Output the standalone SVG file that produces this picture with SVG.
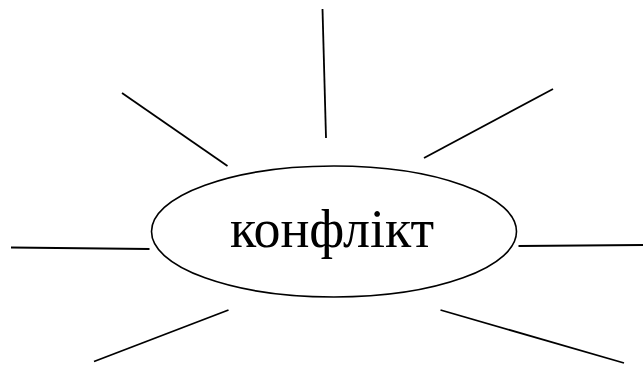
<svg xmlns="http://www.w3.org/2000/svg" width="643" height="367" viewBox="0 0 643 367">
<style>
.ln{stroke:#000;stroke-width:1.8;fill:none}
.el{stroke:#000;stroke-width:1.6;fill:#fff}
.tx{font-family:"Liberation Serif",serif;font-size:54px;fill:#000;text-anchor:middle}
</style>
<rect width="643" height="367" fill="#fff"/>
<g id="connectors">
<line class="ln" x1="322.5" y1="9" x2="326" y2="138"/>
<line class="ln" x1="122" y1="93" x2="227.5" y2="166"/>
<line class="ln" x1="553" y1="89" x2="424" y2="158"/>
<line class="ln" x1="11" y1="247.5" x2="149.5" y2="249"/>
<line class="ln" x1="518.5" y1="246" x2="643" y2="245"/>
<line class="ln" x1="228.5" y1="310" x2="94" y2="361.5"/>
<line class="ln" x1="440.5" y1="310" x2="624" y2="363"/>
</g>
<g id="node-conflict">
<ellipse class="el" cx="334" cy="231.5" rx="182.5" ry="65.5"/>
<text class="tx" x="332" y="247">конфлікт</text>
</g>
</svg>
